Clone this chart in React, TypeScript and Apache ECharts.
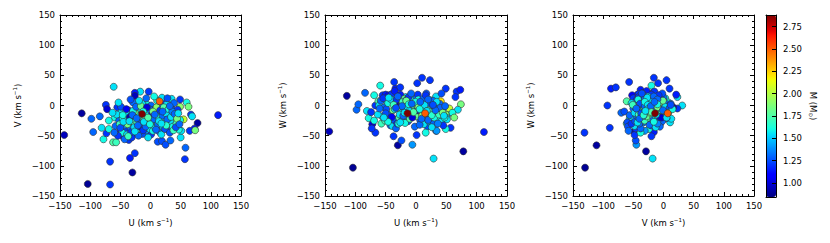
import React, { useEffect, useRef } from "react";
import * as echarts from "echarts";

// Star space velocities (km/s) and masses (Msun)
const U = [
  -143, -104, -114, -30, -67, 112, 78, 29, -67, -34,
  -26, -36, 57, 58, -62, -57, -6, -24, 1, 10,
  23, 2, -61, -59, -98, -95, -84, -81, -78, -74,
  -72, -73, -69, -69, 67, 73, 65, 74, 69, 55,
  60, 63, 49, 49, 50, 51, 12, 19, 25, 33,
  -14, 15, -26, -9, 41, -17, -3, -26, -26, 35,
  19, 49, 34, 16, -37, -29, -55, -50, -45, -40,
  -35, -48, -52, -47, -44, -42, -39, -36, -33, -31,
  -28, -25, -23, -21, -19, -17, -15, -13, -11, -9,
  -7, -5, -3, -1, 1, 3, 5, 7, 9, 11,
  13, 15, 17, 19, 21, 23, 25, 27, 29, 31,
  33, 35, 37, 39, 41, 43, 45, 47, -58, -56,
  -54, -51, -49, -46, -43, -41, -38, -34, -32, -29,
  -27, -24, -22, -20, -18, -16, -14, -12, -10, -8,
  -6, -4, -2, 0, 2, 4, 6, 8, 10, 12,
  14, 16, 18, 20, 22, 24, 26, 28, 30, 32,
  34, 36, 38, 40, 42, 44, 46, 48, -50, -45,
  -40, -37, -30, -26, -21, -16, -11, -6, -1, 4,
  9, 14, 20, 26, 32, -35, -23, -12, -4, 7,
  18, -46, -33, -19, -7, 6, 28, -63, -60, -53,
];
const V = [
  -49, -130, -13, -111, -131, -16, -29, -18, -93, -87,
  -79, -57, -89, -70, -61, -61, -45, -46, -48, -16,
  5, -9, 31, -20, -22, -44, -18, -37, -56, 1,
  -6, -46, -25, -39, -15, -38, -42, -41, -18, -23,
  5, -2, -2, 10, -53, -42, -60, -59, -65, -58,
  -14, 7, -32, -5, -29, 23, 23, 21, 16, 11,
  13, -24, -31, -38, -20, 5, -3, -43, -52, -41,
  -28, -10, -25, -45, -33, -20, -48, -8, -38, -53,
  -27, -12, -40, -3, -22, -35, -8, -47, -18, -30,
  3, -25, -11, -39, 0, -20, -33, -6, -27, 8,
  -13, -44, -2, -24, -36, -9, -29, 2, -40, -14,
  -26, -5, -35, 4, -18, -30, -7, -40, -34, -15,
  -50, -31, -2, -22, -56, -11, -31, -19, -44, -9,
  -36, -2, -28, -50, -17, -30, 3, -41, -21, -35,
  -14, -53, -6, -28, -16, -42, -23, -37, -3, -31,
  -20, -8, -48, -17, -3, -39, -13, -23, -6, -45,
  -19, -10, -41, -14, -36, -22, -13, -31, -37, -27,
  -6, -51, -16, -43, -33, -1, -27, -3, -31, -10,
  -40, -26, -10, -33, -1, -26, -21, -10, -20, -15,
  -30, -16, 10, 8, 12, 15, 12, -12, -45, 5,
];
const W = [
  -43, -103, 16, -66, -45, -44, -76, -88, 0, 28,
  30, 39, -37, -12, 7, -30, -65, -58, -49, 46,
  42, 37, 0, 33, -7, 2, 21, -9, -21, -11,
  -31, -38, 17, -25, 23, 26, 14, 2, -7, -5,
  -12, -20, -15, 28, -20, -23, -28, -35, -10, -42,
  -13, -13, 2, -9, 7, 14, -5, 18, -3, -28,
  -22, -39, -42, -45, -51, -21, 17, 18, 17, 19,
  24, 6, -3, -11, -28, -33, -34, -24, -38, -30,
  -20, -8, -12, 4, 11, -4, -20, -26, 7, -3,
  12, -16, -1, -9, 13, 18, -7, -25, -14, 5,
  -31, -18, 20, -3, -26, 9, -11, -18, -30, -1,
  15, -13, -22, 3, -27, -8, -33, -20, 8, -18,
  12, -25, -6, 4, -16, 10, -8, 3, 10, -30,
  -15, -26, 6, -5, -29, 9, -2, 14, -22, 20,
  -12, 4, -35, -18, -8, 10, -32, 2, -17, 11,
  -6, 17, -12, -24, -10, 3, -36, 8, -20, -5,
  6, -30, -15, -4, 20, -12, -17, -1, -13, 13,
  -19, 1, 15, -28, -17, 8, -9, -20, 6, -3,
  -22, 1, 10, -16, -8, -6, -1, 2, -11, 6,
  -9, -27, -4, -12, 3, -6, 1, -15, -5, -20,
];
const M = [
  0.95, 0.88, 0.9, 0.9, 1.2, 1.15, 0.9, 1.55, 1.2, 1.15,
  1.2, 1.2, 1.2, 1.3, 1.75, 1.7, 1.4, 1.25, 1.2, 1.2,
  1.2, 1.2, 1.55, 1.6, 1.3, 1.3, 1.3, 1.55, 1.6, 1.2,
  1.0, 1.2, 1.6, 1.6, 1.2, 1.15, 1.2, 1.85, 1.55, 2.05,
  1.6, 1.85, 1.9, 1.2, 1.55, 1.55, 1.25, 1.25, 1.25, 1.3,
  2.88, 2.5, 2.25, 2.2, 2.2, 1.55, 1.2, 1.15, 0.95, 1.55,
  1.55, 1.6, 1.4, 1.6, 1.2, 1.3, 1.2, 1.15, 1.1, 1.2,
  1.15, 1.55, 1.3, 1.6, 1.35, 1.3, 1.55, 1.25, 1.3, 1.2,
  1.75, 1.85, 1.6, 1.9, 1.8, 1.0, 1.55, 1.25, 1.7, 1.35,
  1.6, 1.25, 1.8, 1.55, 1.3, 1.2, 1.75, 1.3, 1.9, 1.6,
  1.55, 1.3, 1.25, 1.75, 1.5, 1.6, 1.35, 1.55, 1.3, 1.85,
  1.55, 1.25, 1.6, 1.3, 1.55, 1.7, 1.2, 1.6, 1.3, 1.55,
  1.2, 1.7, 1.25, 1.6, 1.3, 1.55, 1.85, 0.95, 1.2, 1.6,
  1.55, 1.3, 1.7, 1.3, 1.6, 1.25, 1.55, 1.2, 1.75, 1.3,
  1.6, 1.55, 1.3, 1.8, 0.98, 1.6, 1.3, 1.55, 1.9, 1.3,
  1.6, 1.2, 1.55, 1.3, 1.75, 1.25, 1.55, 1.3, 1.6, 1.25,
  1.55, 1.35, 1.7, 1.3, 1.25, 1.85, 1.55, 1.3, 1.25, 1.55,
  1.05, 1.7, 1.3, 1.55, 1.3, 1.8, 1.55, 1.0, 1.6, 1.85,
  1.3, 1.55, 1.3, 1.65, 1.3, 1.55, 1.3, 1.6, 1.75, 1.3,
  1.55, 1.6, 1.25, 1.55, 1.3, 1.6, 1.25, 1.55, 1.3, 1.55,
];

const VEL_MIN = -150;
const VEL_MAX = 150;
const VEL_STEP = 50;
const M_MIN = 0.843;
const M_MAX = 2.88;
const CBAR_TICKS = [1.0, 1.25, 1.5, 1.75, 2.0, 2.25, 2.5, 2.75];

const FONT = "DejaVu Sans";
const FS = 8.5;

function interp(pts: number[][], t: number) {
  for (let i = 1; i < pts.length; i++) {
    if (t <= pts[i][0]) {
      const [t0, v0] = pts[i - 1];
      const [t1, v1] = pts[i];
      return v0 + ((v1 - v0) * (t - t0)) / (t1 - t0);
    }
  }
  return pts[pts.length - 1][1];
}
function jet(t: number) {
  const r = interp([[0, 0], [0.35, 0], [0.66, 1], [0.89, 1], [1, 0.5]], t);
  const g = interp([[0, 0], [0.125, 0], [0.375, 1], [0.64, 1], [0.91, 0], [1, 0]], t);
  const b = interp([[0, 0.5], [0.11, 1], [0.34, 1], [0.65, 0], [1, 0]], t);
  const h = (v: number) => Math.round(Math.max(0, Math.min(1, v)) * 255).toString(16).padStart(2, "0");
  return "#" + h(r) + h(g) + h(b);
}
const JET: string[] = [];
for (let i = 0; i <= 64; i++) JET.push(jet(i / 64));

const PANELS = [
  { xs: U, ys: V, xName: "U", yName: "V", left: 60, width: 181 },
  { xs: U, ys: W, xName: "U", yName: "W", left: 325, width: 182 },
  { xs: V, ys: W, xName: "V", yName: "W", left: 573, width: 181 },
];
const TOP = 15;
const H = 181;

const richSup = {
  sup: { fontSize: 5.5, fontFamily: FONT, color: "#000", padding: [0, 0, 5, 0] },
};

function velAxis(gridIndex: number, position: string, labels: boolean, name?: string) {
  const isX = position === "bottom" || position === "top";
  return {
    type: "value",
    gridIndex,
    position,
    min: VEL_MIN,
    max: VEL_MAX,
    interval: VEL_STEP,
    name: name ? `${name} (km s{sup|−1})` : "",
    nameLocation: "middle",
    nameGap: isX ? 21 : 37,
    nameTextStyle: { fontFamily: FONT, fontSize: FS, color: "#000", rich: richSup },
    axisLine: { show: true, onZero: false, lineStyle: { color: "#000", width: 1 } },
    axisTick: { show: true, inside: true, length: 4, lineStyle: { color: "#000", width: 1 } },
    minorTick: { show: true, splitNumber: 5, length: 2, lineStyle: { color: "#000", width: 1 } },
    splitLine: { show: false },
    axisLabel: {
      show: labels,
      fontFamily: FONT,
      fontSize: FS,
      color: "#000",
      margin: isX ? 5 : 5,
      formatter: (v: number) => (v < 0 ? "−" + Math.abs(v) : String(v)),
    },
  };
}

export default function App() {
  const ref = useRef<HTMLDivElement>(null);
  useEffect(() => {
    if (!ref.current) return;
    const chart = echarts.init(ref.current, null, { renderer: "svg" });
    const grids: any[] = [];
    const xAxes: any[] = [];
    const yAxes: any[] = [];
    const series: any[] = [];
    const order = M.map((_, i) => i).sort((a, b) => (M[a] > 2.4 ? 1 : 0) - (M[b] > 2.4 ? 1 : 0) || a - b);
    PANELS.forEach((p, i) => {
      grids.push({ left: p.left, top: TOP, width: p.width, height: H, containLabel: false });
      xAxes.push(velAxis(i, "bottom", true, p.xName));
      xAxes.push(velAxis(i, "top", false));
      yAxes.push(velAxis(i, "left", true, p.yName));
      yAxes.push(velAxis(i, "right", false));
      series.push({
        type: "scatter",
        xAxisIndex: 2 * i,
        yAxisIndex: 2 * i,
        symbolSize: 7,
        itemStyle: { borderColor: "#333", borderWidth: 0.6, opacity: 1 },
        data: order.map((k) => [p.xs[k], p.ys[k], M[k]]),
      });
    });
    // colorbar frame / axis
    grids.push({ left: 766, top: TOP, width: 10, height: 182 });
    const frame = {
      type: "value",
      gridIndex: 3,
      min: 0,
      max: 1,
      z: 10,
      axisLine: { show: true, onZero: false, lineStyle: { color: "#000", width: 1 } },
      axisTick: { show: false },
      axisLabel: { show: false },
      splitLine: { show: false },
    };
    xAxes.push({ ...frame, position: "bottom" });
    xAxes.push({ ...frame, position: "top" });
    yAxes.push({ ...frame, position: "left", min: M_MIN, max: M_MAX });
    yAxes.push({
      type: "value",
      gridIndex: 3,
      position: "right",
      min: M_MIN,
      max: M_MAX,
      z: 10,
      name: "M (M{sub|⊙})",
      nameLocation: "middle",
      nameGap: 32,
      nameRotate: -90,
      nameTextStyle: {
        fontFamily: FONT,
        fontSize: FS,
        color: "#000",
        rich: { sub: { fontSize: 5.5, fontFamily: FONT, color: "#000", padding: [4, 0, 0, 0] } },
      },
      axisLine: { show: true, onZero: false, lineStyle: { color: "#000", width: 1 } },
      axisTick: { show: true, inside: true, length: 4, customValues: CBAR_TICKS, lineStyle: { color: "#000" } },
      axisLabel: {
        show: true,
        customValues: CBAR_TICKS,
        fontFamily: FONT,
        fontSize: FS,
        color: "#000",
        margin: 7,
        formatter: (v: number) => v.toFixed(2),
      },
      splitLine: { show: false },
    });

    chart.setOption({
      animation: false,
      backgroundColor: "#fff",
      grid: grids,
      xAxis: xAxes,
      yAxis: yAxes,
      visualMap: {
        type: "continuous",
        min: M_MIN,
        max: M_MAX,
        dimension: 2,
        seriesIndex: [0, 1, 2],
        inRange: { color: JET },
        show: true,
        calculable: false,
        hoverLink: false,
        left: 766,
        top: TOP,
        itemWidth: 10,
        itemHeight: 182,
        padding: 0,
        text: null,
      },
      series,
    });
    return () => chart.dispose();
  }, []);
  return (
    <div
      ref={ref}
      style={{ position: "absolute", left: 0, top: 0, width: 830, height: 243 }}
    />
  );
}
